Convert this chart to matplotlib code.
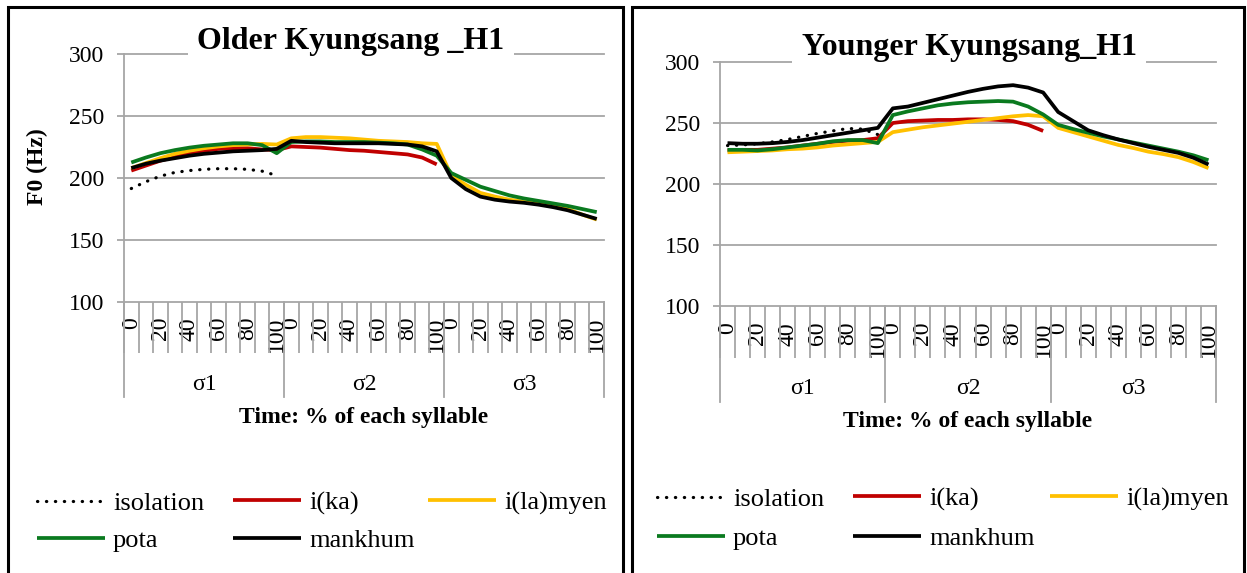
import numpy as np
import matplotlib
matplotlib.use('Agg')
import matplotlib.pyplot as plt
from matplotlib.lines import Line2D
from matplotlib.patches import Rectangle

plt.rcParams['font.family'] = ['Liberation Serif', 'DejaVu Serif']

W, H = 1247, 573
nan = np.nan

# ---------------- data ----------------
syllables = ['σ1', 'σ2', 'σ3']
pct_labels = ['0', '', '20', '', '40', '', '60', '', '80', '', '100']  # 0..100 step 10
series_names = ['isolation', 'i(ka)', 'i(la)myen', 'pota', 'mankhum']
series_colors = ['#000000', '#C00000', '#FFC000', '#0A7A1F', '#000000']
series_styles = [(0, (0.1, 2.7)), '-', '-', '-', '-']

# Older Kyungsang (left)
old_isolation = [191.5, 197, 201.5, 204.5, 206, 207, 207.5, 207.5, 207, 205.5, 202] + [nan] * 22
old_ika = ([206, 210, 214, 217, 220, 222, 223.5, 224, 224, 223, 222.5]
           + [225.5, 225, 224.5, 223.5, 222.5, 222, 221, 220, 219, 216.5, 211]
           + [nan] * 11)
old_ilamyen = ([208, 212, 216, 219.5, 222, 224, 225.5, 226.5, 227, 227.5, 227]
               + [232, 233, 233, 232.5, 232, 231, 230, 229.5, 229, 228, 227.5]
               + [202, 194.5, 188, 185, 182.5, 181, 179.5, 177.5, 175, 170.5, 166.5])
old_pota = ([212.5, 216.5, 220, 222.5, 224.5, 226, 227, 228, 228, 226.5, 220]
            + [229, 229.5, 229.5, 229, 229, 229, 228.5, 228, 227, 223, 218]
            + [204, 198.5, 193, 189.5, 186, 183.5, 181.5, 179.5, 177.5, 175, 172.5])
old_mankhum = ([208, 211.5, 214, 216, 218, 219.5, 220.5, 221.5, 222, 222.5, 223.5]
               + [230, 229, 228.5, 228, 228, 228, 228, 227.5, 227, 225.5, 221.5]
               + [200, 191, 185, 182.5, 181, 180, 178.5, 176.5, 174, 170.5, 167])

# Younger Kyungsang (right)
yng_isolation = [231.5, 232, 233, 234.5, 236.5, 239, 241.5, 243.5, 245.5, 245, 240.5] + [nan] * 22
yng_ika = ([227.5, 228, 228, 229, 230, 231.5, 233, 234.5, 235.5, 236, 237.5]
           + [250, 251.5, 252, 252.5, 252.5, 253, 253, 252.5, 251.5, 248.5, 243.5]
           + [nan] * 11)
yng_ilamyen = ([226, 226.5, 227, 227.5, 228.5, 229, 230, 231.5, 232.5, 233.5, 234.5]
               + [242.5, 244.5, 246.5, 248, 249.5, 251, 252.5, 254, 255.5, 256.5, 255.5]
               + [246, 242.5, 239, 235.5, 232, 229.5, 226.5, 224.5, 222, 218, 213])
yng_pota = ([228, 228, 227.5, 228.5, 230, 231.5, 233, 235, 236, 236, 233.5]
            + [256.5, 259.5, 262, 264.5, 266, 267, 267.5, 268, 267.5, 263.5, 257]
            + [248.5, 245, 242, 239, 236.5, 234, 231.5, 229, 226.5, 223.5, 219.5])
yng_mankhum = ([233.5, 233, 233, 233.5, 234.5, 236, 238, 240, 242, 244, 246]
               + [262, 263.5, 266.5, 269.5, 272.5, 275.5, 278, 280, 281, 279, 275]
               + [259, 251.5, 244, 240, 236.5, 233.5, 230.5, 228, 225.5, 221.5, 216])

y_ticks = [100, 150, 200, 250, 300]

GRID = '#A6A6A6'
LW = 2.7
DOT_LW = 2.3
TICK_FS = 17
LEG_FS = 19
n_per = len(pct_labels)
n_all = n_per * len(syllables)
xs = np.arange(n_all)

fig = plt.figure(figsize=(W / 100, H / 100), dpi=100)


def px_rect(x0, ytop, x1, ybot):
    return [x0 / W, 1 - ybot / H, (x1 - x0) / W, (ybot - ytop) / H]


def style_kw(idx):
    ls = series_styles[idx]
    if ls == '-':
        return dict(color=series_colors[idx], lw=LW, ls='-',
                    solid_joinstyle='round', solid_capstyle='butt')
    return dict(color=series_colors[idx], lw=DOT_LW, ls=ls,
                dash_capstyle='round')


def panel(rect, series, title, title_xy, ylabel, leg_rows, lab_pad, sep_len,
          tick_len, sig_off, xl_off):
    ax = fig.add_axes(px_rect(*rect))
    ax_h = rect[3] - rect[1]
    for idx, vals in enumerate(series):
        ax.plot(xs, vals, zorder=3, **style_kw(idx))
    ax.set_xlim(-0.5, n_all - 0.5)
    ax.set_ylim(y_ticks[0], y_ticks[-1])
    ax.set_yticks(y_ticks)
    ax.set_yticklabels([str(t) for t in y_ticks])
    ax.yaxis.grid(True, color=GRID, lw=1.3)
    for gl in ax.get_ygridlines():
        gl.set_clip_on(False)
    ax.tick_params(axis='y', length=5, width=1.3, color=GRID, pad=9.4,
                   labelsize=TICK_FS)
    for s in ['top', 'right', 'bottom']:
        ax.spines[s].set_visible(False)
    ax.spines['left'].set_color(GRID)
    ax.spines['left'].set_linewidth(1.3)
    # x ticks
    ax.set_xticks(xs)
    ax.set_xticklabels(pct_labels * len(syllables), rotation=90, fontsize=TICK_FS)
    ax.tick_params(axis='x', which='major', length=0, pad=lab_pad)
    ax.set_xticks(np.arange(-0.5, n_all, 1), minor=True)
    ax.tick_params(axis='x', which='minor', length=tick_len, width=1.3,
                   color=GRID, direction='out')
    # group separators and labels
    bounds = np.arange(0, n_all + 1, n_per) - 0.5
    for b in bounds:
        ax.add_line(Line2D([b, b], [0, -sep_len / ax_h], color=GRID, lw=1.3,
                           transform=ax.get_xaxis_transform(), clip_on=False))
    for i, s in enumerate(syllables):
        ax.text(i * n_per + (n_per - 1) / 2, -sig_off / ax_h, s, fontsize=TICK_FS,
                ha='center', va='center', transform=ax.get_xaxis_transform())
    ax.text(0.5 * (n_all - 1), -xl_off / ax_h, 'Time: % of each syllable',
            fontsize=17, fontweight='bold', ha='center', va='center',
            transform=ax.get_xaxis_transform())
    fig.text(title_xy[0] / W, 1 - title_xy[1] / H, title, fontsize=23,
             fontweight='bold', ha='center', va='center',
             bbox=dict(facecolor='white', edgecolor='none', pad=7), zorder=5)
    if ylabel:
        fig.text(37.5 / W, 1 - 167 / H, ylabel, rotation=90, fontsize=17,
                 fontweight='bold', ha='center', va='center')
    # legend
    for (lx, ly, idx) in leg_rows:
        h = Line2D([], [], **style_kw(idx))
        fig.legend(handles=[h], labels=[series_names[idx]], loc='center left',
                   bbox_to_anchor=(lx / W, 1 - ly / H), frameon=False,
                   borderpad=0, borderaxespad=0, handlelength=2.58,
                   handletextpad=0.3, fontsize=LEG_FS)
    return ax


panel((124, 54, 604, 302),
      [old_isolation, old_ika, old_ilamyen, old_pota, old_mankhum],
      'Older Kyungsang _H1', (351, 42), 'F0 (Hz)',
      [(37, 503, 0), (233, 503, 1), (428, 503, 2), (37, 540, 3), (233, 540, 4)],
      lab_pad=10.8, sep_len=95, tick_len=36.7, sig_off=82, xl_off=115)

panel((720, 62, 1216, 306),
      [yng_isolation, yng_ika, yng_ilamyen, yng_pota, yng_mankhum],
      'Younger Kyungsang_H1', (969, 47), None,
      [(657, 499, 0), (853, 499, 1), (1050, 499, 2), (657, 538, 3), (853, 538, 4)],
      lab_pad=11.5, sep_len=96, tick_len=37.4, sig_off=83, xl_off=116)

# panel borders
for (x0, x1) in [(8, 623), (632, 1244)]:
    fig.add_artist(Rectangle((x0 / W, -0.05), (x1 - x0) / W, 1 - 7 / H + 0.05,
                             transform=fig.transFigure, fill=False,
                             edgecolor='black', lw=2.2, clip_on=False, zorder=10))

fig.savefig('out.png', dpi=100, facecolor='white')
